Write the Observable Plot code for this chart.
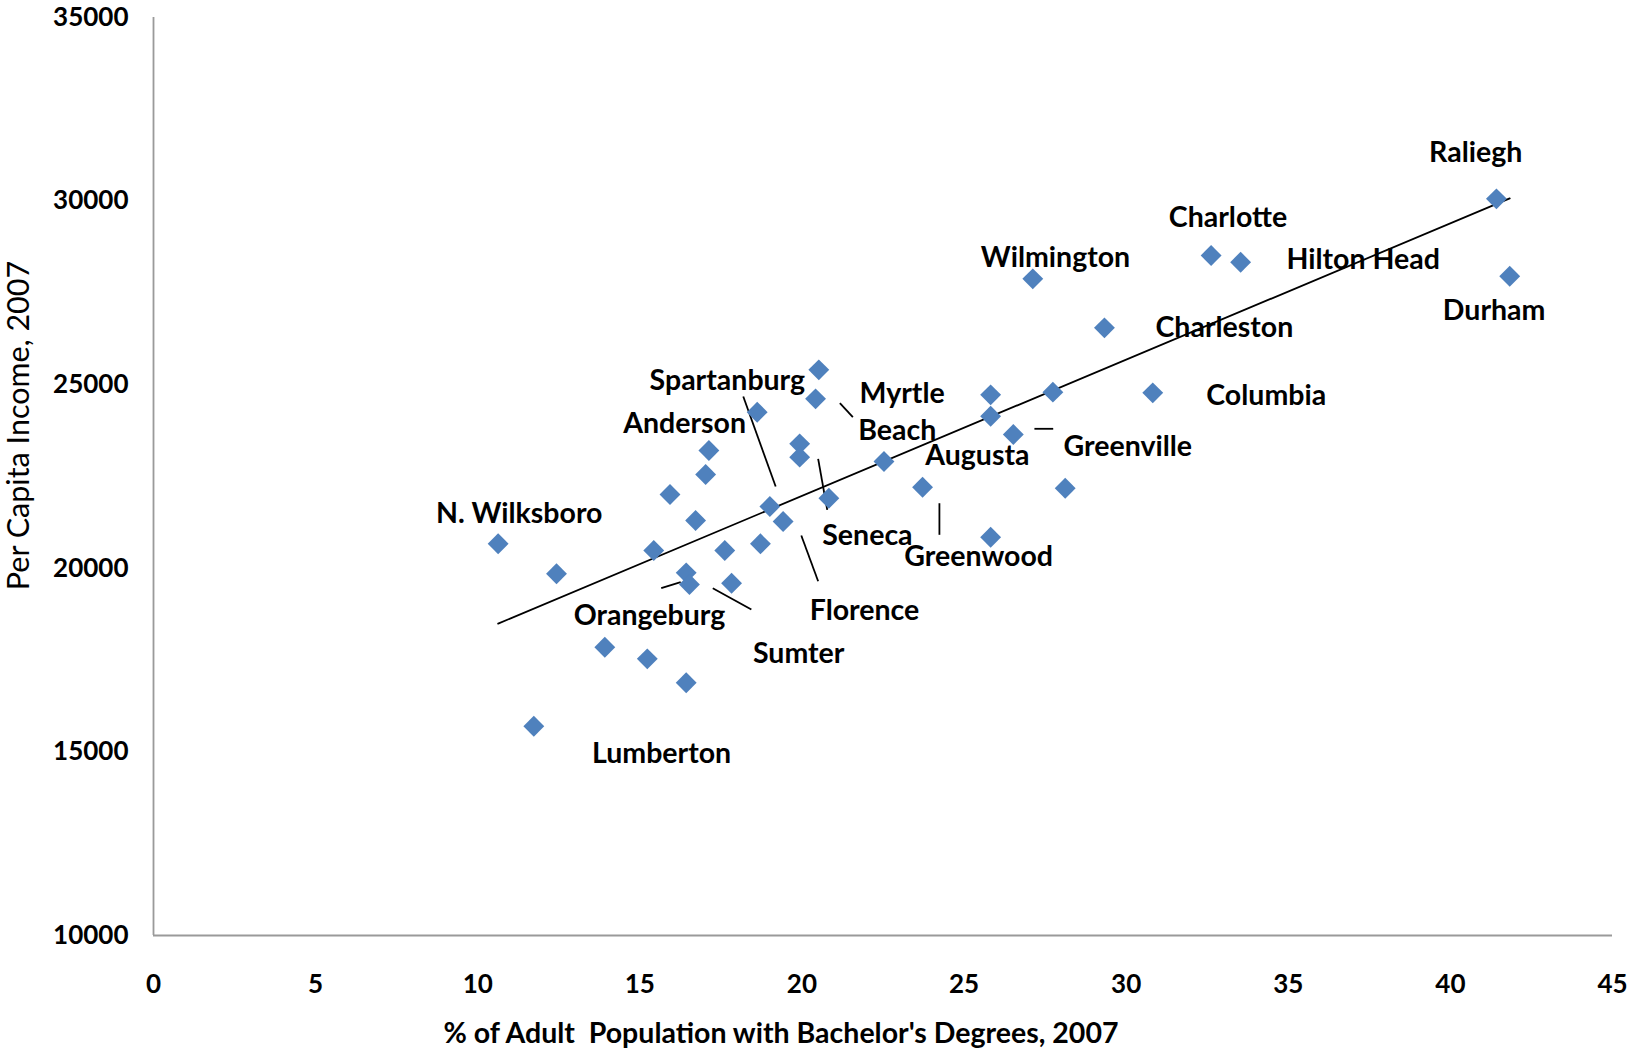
<!DOCTYPE html>
<html>
<head>
<meta charset="utf-8">
<script src="https://cdn.jsdelivr.net/npm/d3@7"></script>
<script src="https://cdn.jsdelivr.net/npm/@observablehq/plot@0.6"></script>
<style>
  html, body { margin: 0; padding: 0; background: #ffffff; }
  #chart svg { display: block; }
</style>
</head>
<body>
<div id="chart"></div>
<script>
// % of adult population with bachelor's degrees, 2007
const bachelors = [10.63, 11.73, 12.43, 13.92, 15.23, 16.43, 15.43, 16.43, 16.53, 17.83,
  17.62, 18.72, 16.72, 15.93, 17.03, 17.13, 18.62, 19.01, 19.42, 19.93,
  19.93, 20.52, 20.42, 20.83, 22.53, 23.72, 25.82, 25.82, 26.52, 25.82,
  27.74, 28.12, 27.12, 29.33, 30.82, 32.62, 33.53, 41.42, 41.83];
// Per capita income, 2007
const income = [20667, 15700, 19850, 17851, 17535, 16882, 20485, 19877, 19559, 19594,
  20485, 20667, 21302, 22009, 22554, 23208, 24251, 21683, 21274, 23390,
  23026, 25405, 24614, 21908, 22908, 22208, 24724, 24142, 23644, 20847,
  24796, 22181, 27883, 26549, 24779, 28518, 28336, 30062, 27955];

// City labels (annotation anchor in data units)
const labelNames = ["N. Wilksboro", "Lumberton", "Orangeburg", "Sumter", "Anderson", "Spartanburg",
  "Seneca", "Florence", "Myrtle", "Beach", "Augusta", "Greenwood", "Greenville", "Wilmington",
  "Charlotte", "Hilton Head", "Charleston", "Columbia", "Raliegh", "Durham"];
const labelX = [11.28, 15.67, 15.30, 19.90, 16.38, 17.70,
  22.02, 21.93, 23.09, 22.94, 25.41, 25.45, 30.05, 27.82,
  33.14, 37.31, 33.03, 34.32, 40.78, 41.35];
const labelY = [21484, 14948, 18714, 17671, 23935, 25114,
  20893, 18850, 24751, 23752, 23071, 20321, 23298, 28455,
  29544, 28401, 26549, 24686, 31314, 27020];

// Leader lines (data units)
const leaderX1 = [18.19, 20.50, 19.98, 15.66, 17.25, 21.17, 24.24, 27.17];
const leaderY1 = [24678, 22981, 20893, 19458, 19458, 24496, 21772, 23799];
const leaderX2 = [19.19, 20.78, 20.50, 16.26, 18.44, 21.57, 24.24, 27.75];
const leaderY2 = [22227, 21593, 19648, 19621, 18878, 24114, 20912, 23799];

const xTicks = [0, 5, 10, 15, 20, 25, 30, 35, 40, 45];
const yTicks = [10000, 15000, 20000, 25000, 30000, 35000];
const xTitle = "% of Adult  Population with Bachelor's Degrees, 2007";
const yTitle = "Per Capita Income, 2007";

const points = bachelors.map((b, i) => ({x: b, y: income[i]}));
const labels = labelNames.map((n, i) => ({name: n, x: labelX[i], y: labelY[i]}));
const leaders = leaderX1.map((v, i) => ({x1: v, y1: leaderY1[i], x2: leaderX2[i], y2: leaderY2[i]}));

const font = "Lato, 'Open Sans', sans-serif";

const chart = Plot.plot({
  width: 1627,
  height: 1052,
  marginLeft: 153,
  marginRight: 15,
  marginTop: 17,
  marginBottom: 117,
  style: {fontFamily: font, background: "#ffffff", color: "#000000"},
  x: {domain: [0, 45], ticks: xTicks, label: null},
  y: {domain: [10000, 35000], ticks: yTicks, label: null},
  marks: [
    Plot.axisX({ticks: xTicks, tickSize: 0, tickPadding: 39, tickFormat: d => String(d),
      fontSize: 26, fontWeight: "bold", fill: "#000000", label: null}),
    Plot.axisY({ticks: yTicks, tickSize: 0, tickPadding: 25, tickFormat: d => String(d),
      fontSize: 26, fontWeight: "bold", fill: "#000000", label: null}),
    Plot.ruleX([0], {stroke: "#9a9a9a", strokeWidth: 1.8}),
    Plot.ruleY([10000], {stroke: "#9a9a9a", strokeWidth: 1.8}),
    Plot.linearRegressionY(points, {x: "x", y: "y", ci: 0, stroke: "#000000", strokeWidth: 1.8}),
    Plot.link(leaders, {x1: "x1", y1: "y1", x2: "x2", y2: "y2", stroke: "#000000", strokeWidth: 1.8}),
    Plot.dot(points, {x: "x", y: "y", symbol: "diamond2", r: 9.4, fill: "#4F81BD", stroke: "none"}),
    Plot.text(labels, {x: "x", y: "y", text: "name", fontSize: 28.5, fontWeight: "bold",
      fill: "#000000", fontFamily: font}),
    Plot.text([xTitle], {frameAnchor: "bottom", textAnchor: "middle", dx: -102, dy: 107, fontSize: 28.5,
      fontWeight: "bold", fill: "#000000", fontFamily: font, letterSpacing: "-0.3px"}),
    Plot.text([yTitle], {frameAnchor: "left", textAnchor: "middle", dx: -134, dy: -51, rotate: -90,
      fontSize: 30.5, fontWeight: "normal", fill: "#000000", fontFamily: font})
  ]
});

document.getElementById("chart").appendChild(chart);
</script>
</body>
</html>
